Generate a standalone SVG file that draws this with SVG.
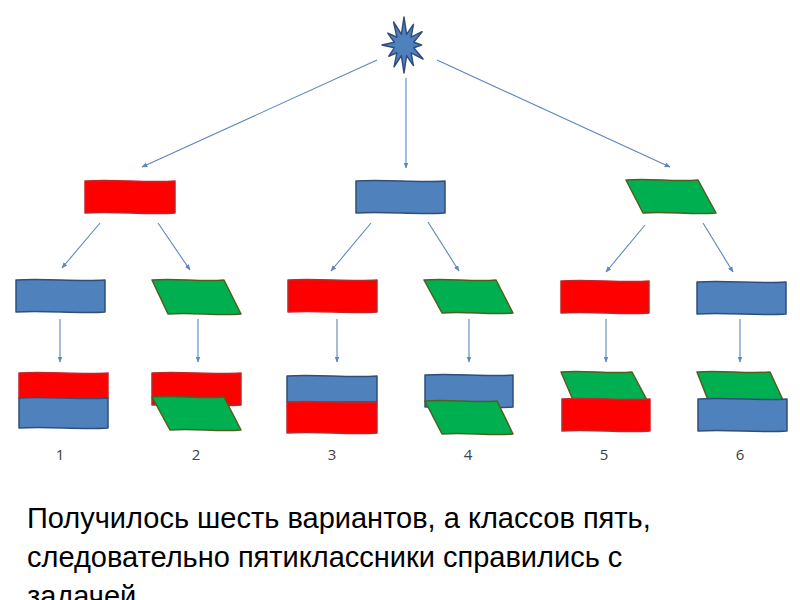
<svg xmlns="http://www.w3.org/2000/svg" width="800" height="600" viewBox="0 0 800 600">
<defs>
<style>
.red{fill:#FF0000;stroke:#C0262A;stroke-width:1.5;stroke-linejoin:round}
.blue{fill:#4F81BD;stroke:#2F4F7A;stroke-width:1.5;stroke-linejoin:round}
.green{fill:#00B050;stroke:#4F5F20;stroke-width:1.5;stroke-linejoin:round}
.conn{stroke:#5B86C0;stroke-width:1.1;fill:none;marker-end:url(#ah)}
.num{font-family:"Open Sans","Liberation Sans",sans-serif;font-size:15px;fill:#404040;text-anchor:middle}
.cap{font-family:"Liberation Sans",Arial,sans-serif;font-size:29px;fill:#000}
</style>
<marker id="ah" viewBox="0 0 10 10" refX="9" refY="5" markerWidth="6" markerHeight="6" orient="auto" markerUnits="userSpaceOnUse">
<path d="M0,1 L10,5 L0,9 Z" fill="#5B86C0"/>
</marker>
</defs>
<rect width="800" height="600" fill="#fff"/>

<g id="connectors">
<line class="conn" x1="377" y1="60" x2="142" y2="167"/>
<line class="conn" x1="406" y1="78" x2="406" y2="168"/>
<line class="conn" x1="437" y1="60" x2="670" y2="167"/>
<line class="conn" x1="100" y1="223" x2="62" y2="268"/>
<line class="conn" x1="158" y1="223" x2="190" y2="270"/>
<line class="conn" x1="371" y1="223" x2="331" y2="271"/>
<line class="conn" x1="428" y1="222" x2="459" y2="271"/>
<line class="conn" x1="645" y1="225" x2="606" y2="272"/>
<line class="conn" x1="703" y1="223" x2="733" y2="272"/>
<line class="conn" x1="60" y1="319" x2="60" y2="362"/>
<line class="conn" x1="198" y1="319" x2="198" y2="362"/>
<line class="conn" x1="337" y1="319" x2="337" y2="362"/>
<line class="conn" x1="469" y1="319" x2="469" y2="362"/>
<line class="conn" x1="606" y1="319" x2="606" y2="362"/>
<line class="conn" x1="740" y1="319" x2="740" y2="362"/>
</g>

<g id="star">
<polygon class="blue" points="404,17 406.6,34.4 413.4,24.4 411.1,37.2 422.1,31.7 413.7,42.2 421.6,45 413.7,47.8 423.1,59 411.1,52.8 413.4,65.6 406.6,55.6 404,73 401.4,55.6 394.1,66.8 396.9,52.8 388.8,56.2 394.3,47.8 382,45 394.3,42.2 387.8,33.1 396.9,37.2 393.6,22 401.4,34.4"/>
</g>

<g id="n1">
<path class="red" d="M85,181 C115,179 145,183 175,181 L175,213 C145,215 115,211 85,213 Z"/>
</g>
<g id="n2">
<path class="blue" d="M356,181 C386,179 416,183 445,181 L445,213 C416,215 386,211 356,213 Z"/>
</g>
<g id="n3">
<path class="green" d="M626,180 C650,178 674,182 698,180 L716,213 C692,215 667,211 643,213 Z"/>
</g>

<g id="n4">
<path class="blue" d="M16,280 C46,278 76,282 105,280 L105,312 C76,314 46,310 16,312 Z"/>
</g>
<g id="n5">
<path class="green" d="M152,280 C176,278 200,282 224,280 L241,314 C217,316 192,312 168,314 Z"/>
</g>
<g id="n6">
<path class="red" d="M288,280 C318,278 348,282 377,280 L377,312 C348,314 318,310 288,312 Z"/>
</g>
<g id="n7">
<path class="green" d="M424,280 C448,278 472,282 496,280 L513,313 C489,315 466,311 442,313 Z"/>
</g>
<g id="n8">
<path class="red" d="M561,281 C590,279 620,283 649,281 L649,313 C620,315 590,311 561,313 Z"/>
</g>
<g id="n9">
<path class="blue" d="M697,282 C727,280 757,284 786,282 L786,314 C757,316 727,312 697,314 Z"/>
</g>

<g id="r1">
<path class="red" d="M19,373 C49,371 79,375 108,373 L108,398 L19,398 Z"/>
<path class="blue" d="M19,398 C49,396 79,400 108,398 L108,428 C79,430 49,426 19,428 Z"/>
</g>
<g id="r2">
<path class="red" d="M152,373 C182,371 212,375 241,373 L241,405 C212,407 182,403 152,405 Z"/>
<path class="green" d="M152,397 C176,395 200,399 224,397 L241,430 C217,432 194,428 170,430 Z"/>
</g>
<g id="r3">
<path class="blue" d="M287,376 C317,374 347,378 377,376 L377,402 L287,402 Z"/>
<path class="red" d="M287,402 C317,400 347,404 377,402 L377,433 C347,435 317,431 287,433 Z"/>
</g>
<g id="r4">
<path class="blue" d="M425,375 C455,373 484,377 513,375 L513,407 C484,409 455,405 425,407 Z"/>
<path class="green" d="M425,401 C449,399 473,403 497,401 L513,434 C489,436 466,432 442,434 Z"/>
</g>
<g id="r5">
<path class="green" d="M561,372 C585,370 608,374 632,372 L647,400 C622,402 598,398 573,400 Z"/>
<path class="red" d="M562,399 C591,397 621,401 650,399 L650,431 C621,433 591,429 562,431 Z"/>
</g>
<g id="r6">
<path class="green" d="M697,372 C721,370 746,374 770,372 L783,400 C758,402 733,398 708,400 Z"/>
<path class="blue" d="M698,399 C728,397 758,401 787,399 L787,431 C758,433 728,429 698,431 Z"/>
</g>

<g id="labels">
<text class="num" x="60" y="460">1</text>
<text class="num" x="196" y="460">2</text>
<text class="num" x="332" y="460">3</text>
<text class="num" x="468" y="460">4</text>
<text class="num" x="604" y="460">5</text>
<text class="num" x="740" y="460">6</text>
</g>

<g id="caption">
<text class="cap" x="27" y="528">Получилось шесть вариантов, а классов пять,</text>
<text class="cap" x="27" y="567">следовательно пятиклассники справились с</text>
<text class="cap" x="27" y="606">задачей</text>
</g>
</svg>
